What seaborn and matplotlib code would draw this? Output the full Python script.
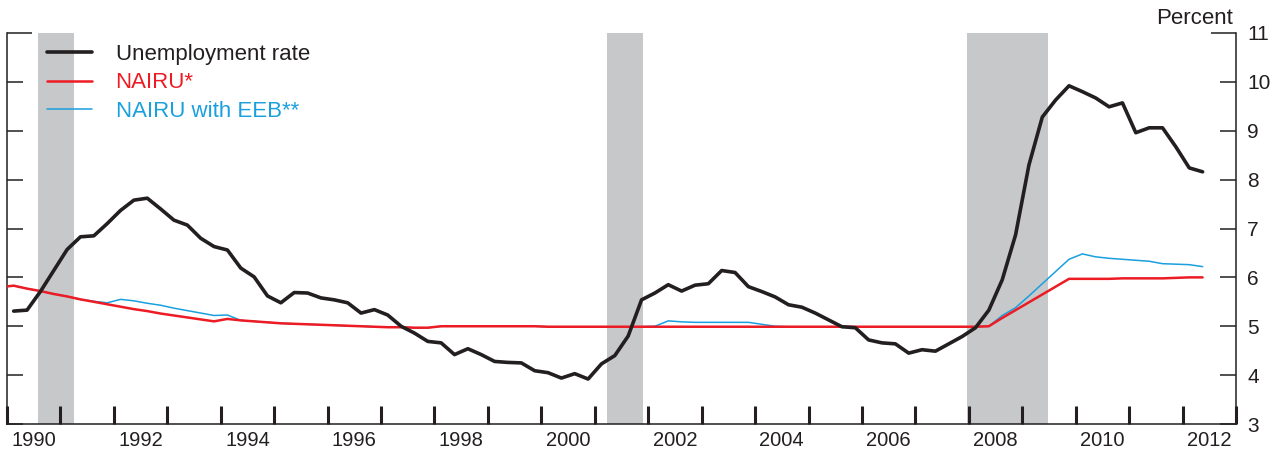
import matplotlib
matplotlib.use("Agg")
import matplotlib.pyplot as plt
from matplotlib.ticker import FixedLocator, NullFormatter
import seaborn as sns
import pandas as pd

# Quarterly series, 1990Q1 - 2012Q2 (NAIRU lines start one quarter earlier)
unrate_start = "1990Q1"
unrate = [
    5.31, 5.33, 5.71, 6.14,   # 1990
    6.57, 6.83, 6.85, 7.10,   # 1991
    7.37, 7.58, 7.62, 7.40,   # 1992
    7.17, 7.07, 6.80, 6.63,   # 1993
    6.56, 6.19, 6.01, 5.62,   # 1994
    5.48, 5.69, 5.68, 5.58,   # 1995
    5.54, 5.48, 5.27, 5.34,   # 1996
    5.23, 5.00, 4.86, 4.69,   # 1997
    4.66, 4.42, 4.54, 4.42,   # 1998
    4.28, 4.26, 4.25, 4.09,   # 1999
    4.05, 3.94, 4.03, 3.92,   # 2000
    4.23, 4.40, 4.80, 5.54,   # 2001
    5.68, 5.85, 5.72, 5.84,   # 2002
    5.87, 6.14, 6.10, 5.81,   # 2003
    5.71, 5.60, 5.44, 5.39,   # 2004
    5.27, 5.13, 4.99, 4.97,   # 2005
    4.72, 4.66, 4.64, 4.45,   # 2006
    4.52, 4.49, 4.64, 4.79,   # 2007
    4.97, 5.33, 5.95, 6.87,   # 2008
    8.30, 9.28, 9.63, 9.92,   # 2009
    9.80, 9.67, 9.49, 9.57,   # 2010
    8.96, 9.06, 9.06, 8.67,   # 2011
    8.24, 8.16,               # 2012
]

nairu_start = "1989Q4"
nairu = [
    5.80,                     # 1989Q4
    5.83, 5.77, 5.72, 5.66,   # 1990
    5.61, 5.55, 5.50, 5.45,   # 1991
    5.40, 5.35, 5.31, 5.26,   # 1992
    5.22, 5.18, 5.14, 5.10,   # 1993
    5.15, 5.12, 5.10, 5.08,   # 1994
    5.06, 5.05, 5.04, 5.03,   # 1995
    5.02, 5.01, 5.00, 4.99,   # 1996
    4.98, 4.98, 4.97, 4.97,   # 1997
    5.00, 5.00, 5.00, 5.00,   # 1998
    5.00, 5.00, 5.00, 5.00,   # 1999
    4.99, 4.99, 4.99, 4.99,   # 2000
    4.99, 4.99, 4.99, 4.99,   # 2001
    4.99, 4.99, 4.99, 4.99,   # 2002
    4.99, 4.99, 4.99, 4.99,   # 2003
    4.99, 4.99, 4.99, 4.99,   # 2004
    4.99, 4.99, 4.99, 4.99,   # 2005
    4.99, 4.99, 4.99, 4.99,   # 2006
    4.99, 4.99, 4.99, 4.99,   # 2007
    4.99, 5.00, 5.17, 5.33,   # 2008
    5.49, 5.65, 5.81, 5.97,   # 2009
    5.97, 5.97, 5.97, 5.98,   # 2010
    5.98, 5.98, 5.98, 5.99,   # 2011
    6.00, 6.00,               # 2012
]

nairu_eeb = [
    5.80,                     # 1989Q4
    5.83, 5.77, 5.72, 5.66,   # 1990
    5.61, 5.55, 5.51, 5.48,   # 1991
    5.55, 5.52, 5.47, 5.43,   # 1992
    5.37, 5.32, 5.27, 5.22,   # 1993
    5.23, 5.12, 5.10, 5.08,   # 1994
    5.06, 5.05, 5.04, 5.03,   # 1995
    5.02, 5.01, 5.00, 4.99,   # 1996
    4.98, 4.98, 4.97, 4.97,   # 1997
    5.00, 5.00, 5.00, 5.00,   # 1998
    5.00, 5.00, 5.00, 5.00,   # 1999
    4.99, 4.99, 4.99, 4.99,   # 2000
    4.99, 4.99, 4.99, 4.99,   # 2001
    5.00, 5.11, 5.09, 5.08,   # 2002
    5.08, 5.08, 5.08, 5.08,   # 2003
    5.04, 5.00, 4.99, 4.99,   # 2004
    4.99, 4.99, 4.99, 4.99,   # 2005
    4.99, 4.99, 4.99, 4.99,   # 2006
    4.99, 4.99, 4.99, 4.99,   # 2007
    4.99, 5.00, 5.22, 5.38,   # 2008
    5.62, 5.87, 6.12, 6.37,   # 2009
    6.48, 6.42, 6.39, 6.37,   # 2010
    6.35, 6.33, 6.28, 6.27,   # 2011
    6.26, 6.22,               # 2012
]

# NBER recessions (decimal years)
rec_start = [1990.58, 2001.23, 2007.96]
rec_end = [1991.25, 2001.91, 2009.48]

year_ticks = list(range(1990, 2014))
year_labels = list(range(1990, 2013, 2))

BLACK = "#231f20"
RED = "#ed1c24"
BLUE = "#1a9fdf"
GRAY = "#c7c8ca"


def quarter_positions(start, n):
    q = pd.period_range(start, periods=n, freq="Q")
    # plot each quarter at its midpoint
    return q.year + (q.quarter - 1) * 0.25 + 0.125


df_u = pd.DataFrame({"date": quarter_positions(unrate_start, len(unrate)), "value": unrate})
df_n = pd.DataFrame({"date": quarter_positions(nairu_start, len(nairu)),
                     "nairu": nairu, "eeb": nairu_eeb})

sns.set_style("ticks")
plt.rcParams["font.family"] = ["Liberation Sans", "DejaVu Sans"]

fig = plt.figure(figsize=(12.83, 4.53), dpi=100)
ax = fig.add_axes([7 / 1283, 1 - 424 / 453, 1229 / 1283, 391 / 453])

for s, e in zip(rec_start, rec_end):
    ax.axvspan(s, e, color=GRAY, lw=0, zorder=0)

sns.lineplot(data=df_u, x="date", y="value", ax=ax, color=BLACK, linewidth=2.6,
             estimator=None, label="Unemployment rate", zorder=4)
sns.lineplot(data=df_n, x="date", y="nairu", ax=ax, color=RED, linewidth=1.8,
             estimator=None, label="NAIRU*", zorder=3)
sns.lineplot(data=df_n, x="date", y="eeb", ax=ax, color=BLUE, linewidth=1.1,
             estimator=None, label="NAIRU with EEB**", zorder=2)

ax.set_xlim(1990, 2013)
ax.set_ylim(3, 11)
ax.set_xlabel("")
ax.set_ylabel("")

for side in ["left", "right", "bottom"]:
    ax.spines[side].set_visible(True)
    ax.spines[side].set_color(BLACK)
    ax.spines[side].set_linewidth(1.1)
ax.spines["top"].set_visible(False)

# x axis: thick year ticks, labels centred in the even years
ax.xaxis.set_major_locator(FixedLocator(year_ticks))
ax.xaxis.set_major_formatter(NullFormatter())
ax.xaxis.set_minor_locator(FixedLocator([y + 0.5 for y in year_labels]))
ax.set_xticklabels([str(y) for y in year_labels], minor=True)
ax.tick_params(axis="x", which="major", direction="in", length=13, width=2.2,
               color=BLACK, bottom=True, top=False)
ax.tick_params(axis="x", which="minor", length=0, pad=5, labelsize=14.5,
               labelcolor=BLACK)

# y axis: ticks on both sides, labels on the right
ax.yaxis.set_major_locator(FixedLocator(list(range(3, 12))))
ax.tick_params(axis="y", which="major", direction="in", length=11.5, width=1.1,
               color=BLACK, left=True, right=True, labelleft=False, labelright=True,
               labelsize=15, pad=8, labelcolor=BLACK)
top_tick = ax.yaxis.get_major_ticks()[-1]
top_tick.tick1line.set_markersize(18)
top_tick.tick2line.set_markersize(18)

ax.text(0.9976, (424 - 24) / 391, "Percent", transform=ax.transAxes,
        ha="right", va="baseline", fontsize=16, color=BLACK)

leg = ax.legend(loc="upper left", bbox_to_anchor=(0.025, 0.995), borderaxespad=0,
                frameon=False, fontsize=16, handlelength=2.05, handletextpad=1.05,
                labelspacing=0.34, labelcolor="linecolor")

fig.savefig("out.png", dpi=100)
plt.close(fig)
